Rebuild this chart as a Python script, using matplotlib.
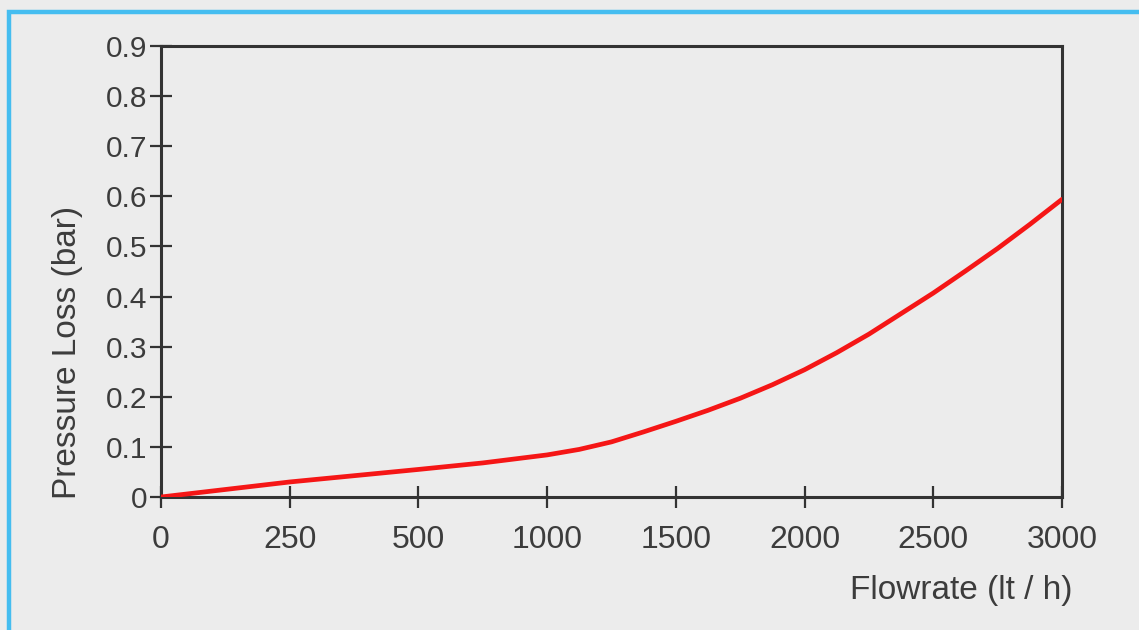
import matplotlib
matplotlib.use("Agg")

import matplotlib.pyplot as plt
import numpy as np
from matplotlib.patches import Rectangle

# tick values on the flow axis (evenly spaced on the chart, not linear)
flow_ticks = [0, 250, 500, 1000, 1500, 2000, 2500, 3000]
loss_ticks = [0, 0.1, 0.2, 0.3, 0.4, 0.5, 0.6, 0.7, 0.8, 0.9]
loss_labels = ["0", "0.1", "0.2", "0.3", "0.4", "0.5", "0.6", "0.7", "0.8", "0.9"]

# curve
flow = [0, 250, 500, 750, 1000, 1125, 1250, 1375, 1500, 1625, 1750, 1875,
        2000, 2125, 2250, 2375, 2500, 2625, 2750, 2875, 3000]
loss = [0.0, 0.030, 0.055, 0.068, 0.084, 0.095, 0.110, 0.130, 0.151, 0.173, 0.197, 0.224,
        0.254, 0.288, 0.325, 0.366, 0.407, 0.451, 0.496, 0.544, 0.594]

BG = "#ececec"
INK = "#3c3c3c"
plt.rcParams["font.family"] = ["Liberation Sans", "DejaVu Sans"]

tick_pos = np.arange(len(flow_ticks), dtype=float)


def fwd(x):
    return np.interp(x, flow_ticks, tick_pos)


def inv(p):
    return np.interp(p, tick_pos, flow_ticks)


fig = plt.figure(figsize=(11.39, 6.30), dpi=100, facecolor=BG)
ax = fig.add_axes([161 / 1139, 1 - 497 / 630, 901 / 1139, 451 / 630])
ax.set_facecolor(BG)

# light blue frame round the panel
fig.patches.append(Rectangle((9 / 1139, -0.1), 1.2, 1 - 12 / 630 + 0.1,
                             transform=fig.transFigure, fill=False,
                             edgecolor="#45bdf0", linewidth=3.2))

ax.plot(flow, loss, color="#f51616", linewidth=3.4, solid_capstyle="round",
        solid_joinstyle="round", zorder=3)

ax.set_xscale("function", functions=(fwd, inv))
ax.set_xlim(0, 3000)
ax.set_ylim(0, 0.9)
ax.set_xticks(flow_ticks)
ax.set_xticklabels([str(v) for v in flow_ticks])
ax.set_yticks(loss_ticks)
ax.set_yticklabels(loss_labels)
ax.minorticks_off()

for s in ax.spines.values():
    s.set_color("#333333")
    s.set_linewidth(2.2)

ax.tick_params(axis="both", direction="inout", length=16, width=1.6,
               color="#333333", labelcolor=INK)
ax.tick_params(axis="x", pad=12, labelsize=23)
ax.tick_params(axis="y", pad=2, labelsize=21.5)

fig.text(68 / 1139, 1 - 352 / 630, "Pressure Loss (bar)", rotation=90,
         ha="center", va="center", fontsize=24, color=INK)
fig.text(1072 / 1139, 1 - 590 / 630, "Flowrate (lt / h)",
         ha="right", va="center", fontsize=24, color=INK)

fig.savefig("out.png", dpi=100, facecolor=BG)
